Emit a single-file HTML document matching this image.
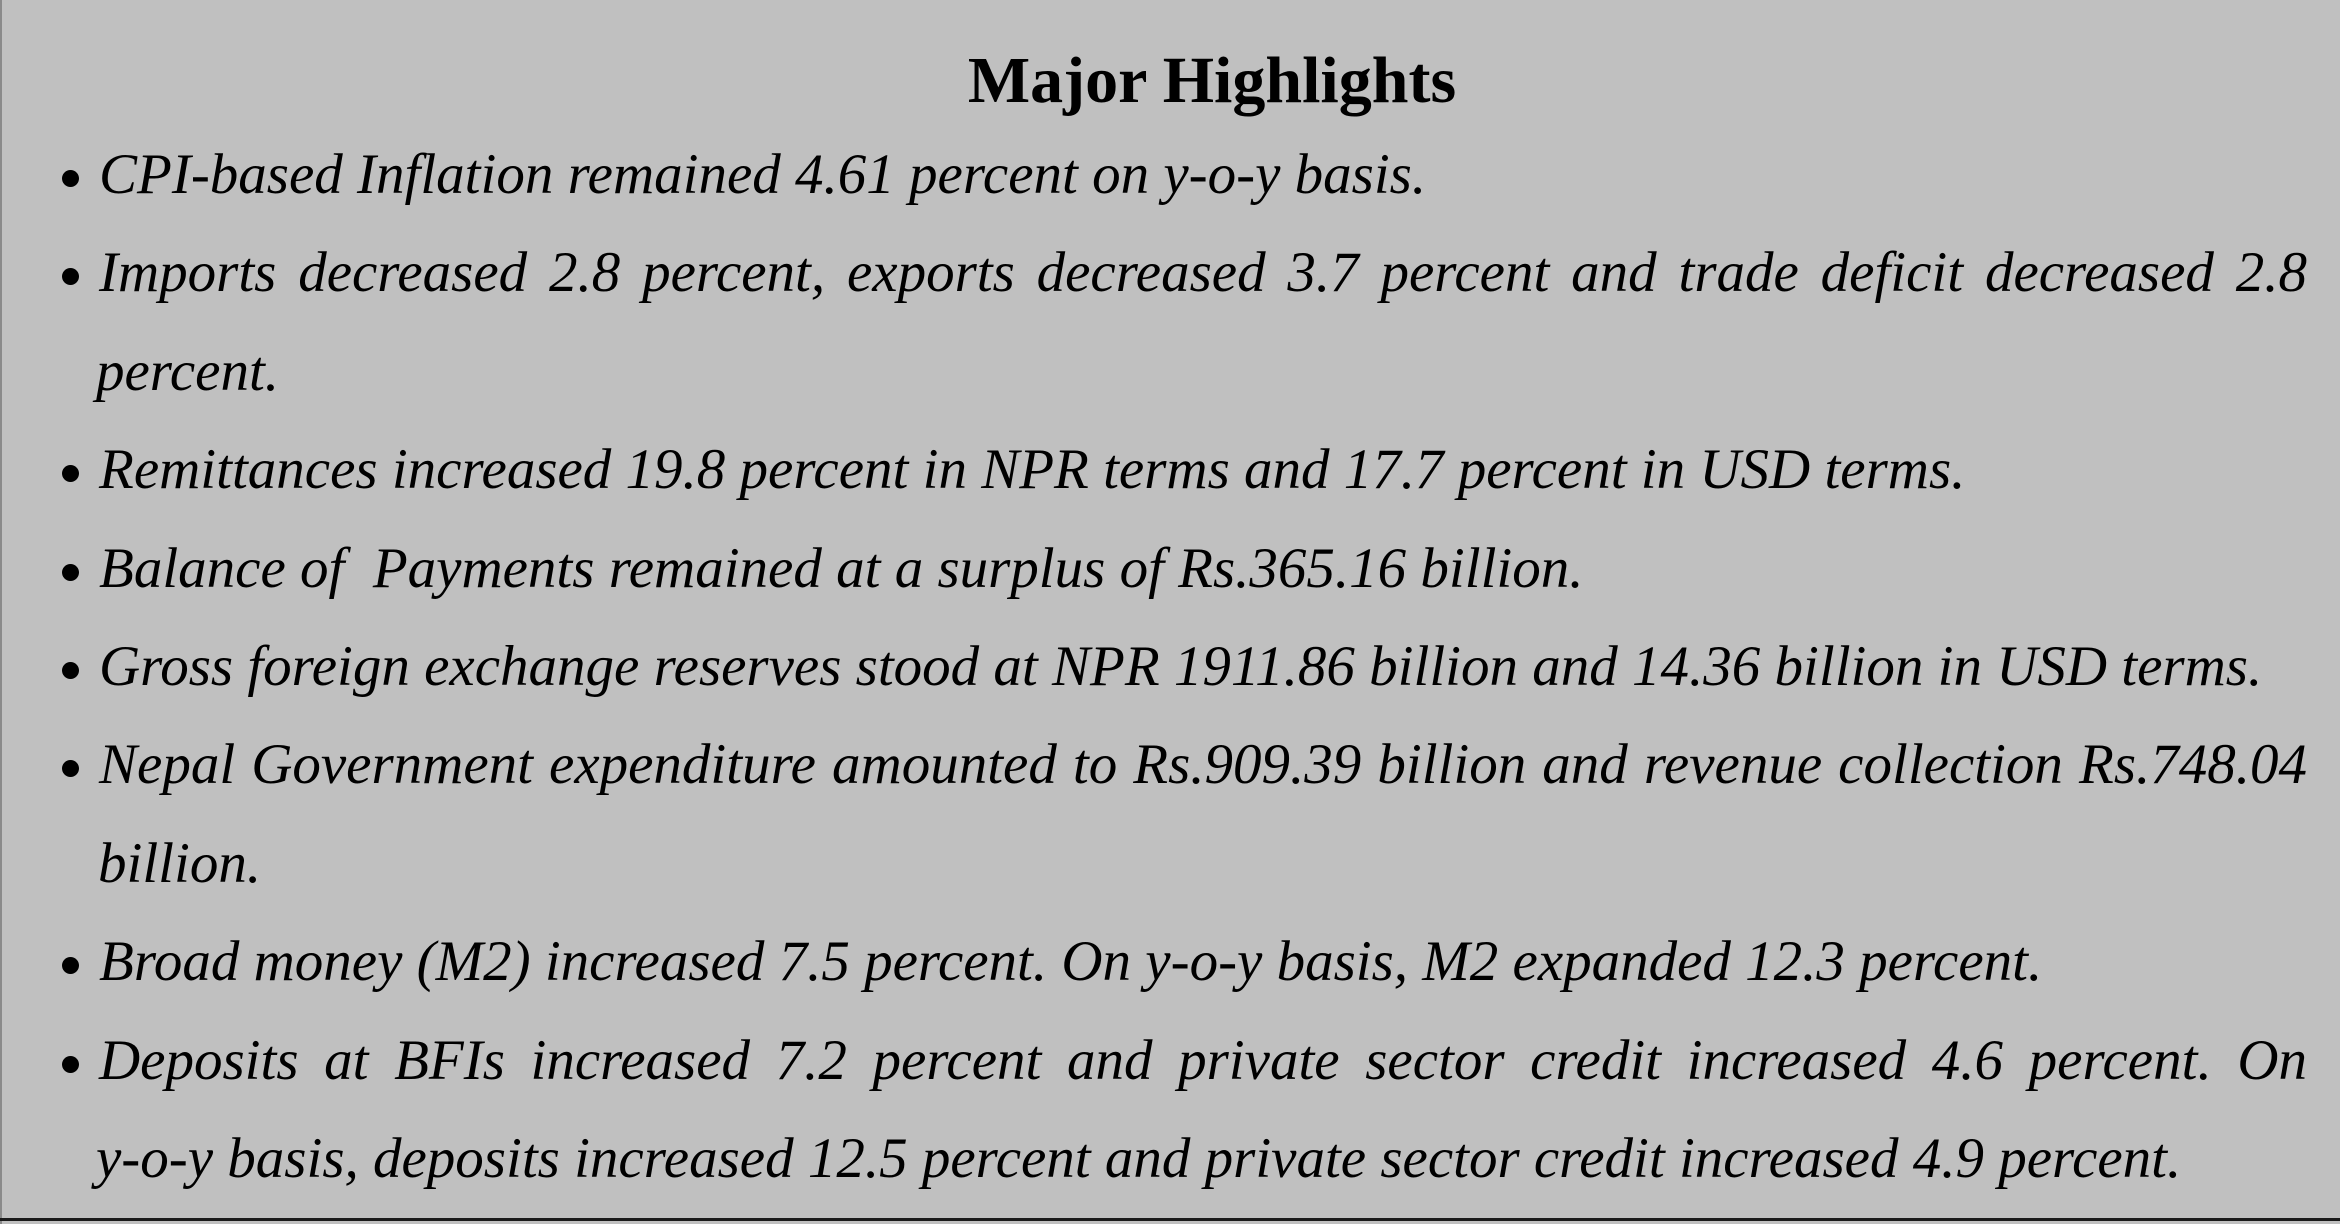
<!DOCTYPE html>
<html><head><meta charset="utf-8"><style>
html,body{margin:0;padding:0;}
body{width:2340px;height:1224px;background:#c0c0c0;position:relative;overflow:hidden;font-family:"Liberation Serif",serif;color:#000;}
.bl{position:absolute;left:0;top:0;width:2px;height:1224px;background:#8a8a8a;}
.bb{position:absolute;left:0;top:1218px;width:2340px;height:3px;background:#1a1a1a;}
.t{position:absolute;left:0;width:2424px;text-align:center;font-weight:bold;font-size:66px;line-height:1;top:48px;}
.l{position:absolute;font-style:italic;font-size:57px;line-height:1;white-space:pre;}
.j{white-space:normal;text-align:justify;text-align-last:justify;width:2208px;}
.d{position:absolute;left:62px;width:17px;height:17px;border-radius:50%;background:#000;}
</style></head><body>
<div class="bl"></div><div class="bb"></div>
<div class="t">Major Highlights</div>

<div class="d" style="top:170px"></div>
<div class="l" style="left:99px;top:146px">CPI-based Inflation remained 4.61 percent on y-o-y basis.</div>

<div class="d" style="top:268px"></div>
<div class="l j" style="left:99px;top:244px">Imports decreased 2.8 percent, exports decreased 3.7 percent and trade deficit decreased 2.8</div>
<div class="l" style="left:96px;top:343px">percent.</div>

<div class="d" style="top:465px"></div>
<div class="l" style="left:99px;top:441px">Remittances increased 19.8 percent in NPR terms and 17.7 percent in USD terms.</div>

<div class="d" style="top:564px"></div>
<div class="l" style="left:99px;top:540px">Balance of  Payments remained at a surplus of Rs.365.16 billion.</div>

<div class="d" style="top:662px"></div>
<div class="l" style="left:99px;top:638px">Gross foreign exchange reserves stood at NPR 1911.86 billion and 14.36 billion in USD terms.</div>

<div class="d" style="top:760px"></div>
<div class="l j" style="left:99px;top:736px">Nepal Government expenditure amounted to Rs.909.39 billion and revenue collection Rs.748.04</div>
<div class="l" style="left:98px;top:835px">billion.</div>

<div class="d" style="top:957px"></div>
<div class="l" style="left:99px;top:933px">Broad money (M2) increased 7.5 percent. On y-o-y basis, M2 expanded 12.3 percent.</div>

<div class="d" style="top:1056px"></div>
<div class="l j" style="left:99px;top:1032px">Deposits at BFIs increased 7.2 percent and private sector credit increased 4.6 percent. On</div>
<div class="l" style="left:96px;top:1130px">y-o-y basis, deposits increased 12.5 percent and private sector credit increased 4.9 percent.</div>
</body></html>
